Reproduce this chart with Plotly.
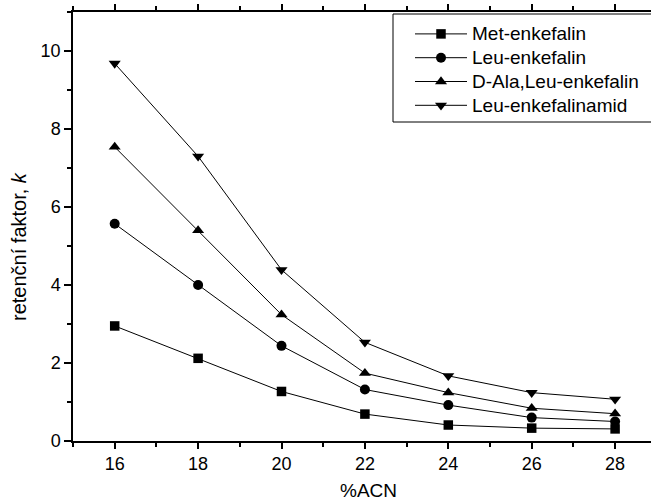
import plotly.graph_objects as go

# Acetonitrile content in the mobile phase (%)
acn = [16, 18, 20, 22, 24, 26, 28]

# Retention factor k for each peptide
met_enkefalin = [2.95, 2.12, 1.27, 0.69, 0.41, 0.33, 0.31]
leu_enkefalin = [5.57, 4.00, 2.44, 1.32, 0.92, 0.60, 0.50]
dala_leu_enkefalin = [7.54, 5.40, 3.24, 1.74, 1.24, 0.84, 0.70]
leu_enkefalinamid = [9.68, 7.30, 4.39, 2.53, 1.67, 1.24, 1.07]

series = [
    ("Met-enkefalin", met_enkefalin, "square", 9.5),
    ("Leu-enkefalin", leu_enkefalin, "circle", 10),
    ("D-Ala,Leu-enkefalin", dala_leu_enkefalin, "triangle-up", 10.5),
    ("Leu-enkefalinamid", leu_enkefalinamid, "triangle-down", 10.5),
]

FONT = "Arial, 'Liberation Sans', sans-serif"
W, H = 651, 504
ML, MR, MT, MB = 73, 0, 12, 63
PW = W - ML - MR
PH = H - MT - MB

fig = go.Figure()
for name, vals, sym, size in series:
    fig.add_trace(go.Scatter(
        x=acn, y=vals, mode="lines+markers",
        name='<span style="font-size:19px">' + name + "</span>",
        line=dict(color="black", width=1),
        marker=dict(symbol=sym, size=size, color="black", line=dict(width=0)),
    ))

def px_x(px):
    return (px - ML) / PW

def px_y(py):
    return (H - MB - py) / PH

# framed legend box, running off the right edge of the page
fig.add_shape(
    type="rect", xref="paper", yref="paper",
    x0=px_x(393), x1=px_x(700), y0=px_y(122), y1=px_y(14),
    line=dict(color="black", width=1), fillcolor="white", layer="above",
)

fig.update_layout(
    width=W, height=H,
    margin=dict(l=ML, r=MR, t=MT, b=MB, pad=0),
    paper_bgcolor="white", plot_bgcolor="white",
    font=dict(family=FONT, color="black", size=18),
    showlegend=True,
    legend=dict(
        x=px_x(410), xanchor="left", y=px_y(17), yanchor="top",
        bgcolor="rgba(0,0,0,0)", borderwidth=0,
        font=dict(family=FONT, size=16, color="black"),
        itemwidth=52, tracegroupgap=0,
    ),
    xaxis=dict(
        range=[15, 15 + PW / 41.7], tick0=16, dtick=2,
        showline=True, linecolor="black", linewidth=1.5,
        mirror="allticks", ticks="outside", ticklen=6, tickwidth=1.5,
        tickcolor="black",
        minor=dict(dtick=1, tick0=15, ticks="outside", ticklen=4,
                   tickwidth=1.5, tickcolor="black", showgrid=False),
        showgrid=False, zeroline=False,
        tickfont=dict(size=18),
    ),
    yaxis=dict(
        range=[0, 11], tick0=0, dtick=2,
        showline=True, linecolor="black", linewidth=1.5,
        ticks="outside", ticklen=7, tickwidth=1.5, tickcolor="black",
        minor=dict(dtick=1, ticks="outside", ticklen=4, tickwidth=1.5,
                   tickcolor="black", showgrid=False),
        showgrid=False, zeroline=False,
        tickfont=dict(size=18),
    ),
    annotations=[
        dict(text="%ACN", xref="paper", yref="paper",
             x=px_x(368), y=px_y(503), xanchor="center", yanchor="bottom",
             showarrow=False, font=dict(size=19)),
        dict(text="retenční faktor, <i>k</i>", xref="paper", yref="paper",
             x=px_x(19), y=px_y(247), xanchor="center", yanchor="middle",
             textangle=-90, showarrow=False, font=dict(size=20)),
    ],
)

fig.write_html("out.html")
